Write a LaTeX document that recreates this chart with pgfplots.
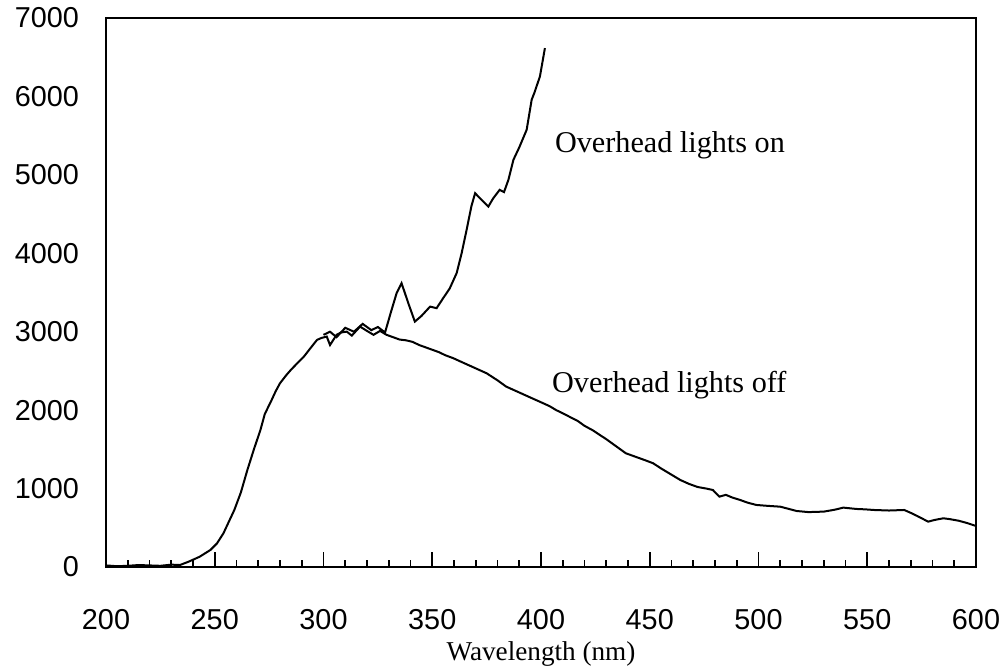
\documentclass[border=0pt]{standalone}
\usepackage{fontspec}
\setmainfont{Liberation Serif}
\newfontfamily\ticksans{Liberation Sans}
\usepackage{pgfplots}
\pgfplotsset{compat=1.18}
\begin{document}
\begin{tikzpicture}
\path[use as bounding box] (-53pt,-50pt) rectangle (450pt,283.5pt);
\begin{axis}[
  scale only axis,
  width=435pt, height=274.5pt,
  xmin=200, xmax=600, ymin=0, ymax=7000,
  xtick={200,250,...,600},
  ytick={0,1000,...,7000},
  minor x tick num=4,
  xtick pos=bottom,
  ytick style={draw=none},
  tick align=inside,
  major tick length=7.5pt,
  minor tick length=3.5pt,
  every tick/.style={black, line width=0.8pt},
  axis line style={line width=1pt},
  /pgf/number format/assume math mode=true,
  /pgf/number format/1000 sep={},
  ticklabel style={font=\ticksans\fontsize{14.4}{16}\selectfont},
  yticklabel style={xshift=-10pt},
  xticklabel style={yshift=-17.5pt},
  xlabel={Wavelength (nm)},
  xlabel style={font=\fontsize{13.6}{15}\selectfont, yshift=1pt},
]
\addplot[black, line width=1pt] coordinates {
(200,20) (205,10) (210,15) (215,25) (220,20) (225,15) (230,30) (234,25) (238,68) (243,130)
(248,217) (251,300) (254,430) (259,727) (262,950) (265,1237) (268,1500) (271,1747) (273,1950)
(276,2120) (278,2240) (280,2343) (283,2450) (285,2513) (288,2600)
(291,2683) (294,2790) (297,2895) (299,2920) (301.5,2938) (303,2830) (306,2960) (308,2990) (310.7,3001) (313,2950)
(316.8,3065) (320,3010) (323,2960) (326,3010) (329,2960) (332,2930) (335,2900) (338,2890) (341,2870)
(344,2830) (347,2800) (350,2770) (353,2740) (356,2700) (359.7,2662) (363,2620) (367,2570) (371,2520) (375,2470) (380,2380) (384,2300) (388,2250) (392,2200)
(396,2150) (401,2088) (404,2050) (407,2000) (410,1960) (413,1917) (417,1860) (420,1800) (424,1740) (427,1684) (430,1630) (433,1570) (436,1510) (439,1450)
(442,1420) (445,1390) (448,1360) (451.6,1322) (455,1260) (458,1210) (461,1160) (464,1110) (468,1060) (472,1020) (476,1000) (479,982) (482,897)
(485,920) (488,885) (491.5,855) (495,820) (499,791) (504,780) (510,769) (514,740) (517.5,714) (523,700) (530,706) (535,730) (539,757)
(545,740) (549,735) (553,727) (560,720) (567,727) (570,690) (573,650) (578,578) (581,600) (585,621) (588,610) (592,590) (596,560) (600,523)
};
\addplot[black, line width=1pt] coordinates {
(300,2960) (303,3000) (306,2930) (310,3050) (314,3000) (318,3100) (322,3020)
(325,3060) (328.3,2990) (331,3250) (333.6,3490) (335.9,3618) (339,3363) (342,3129)
(345,3200) (349,3320) (352,3300) (355,3427) (358,3550) (361.2,3746) (363.5,4000)
(365.8,4299) (368,4600) (369.7,4766) (372,4700) (375.8,4596) (378,4700) (381,4809)
(383,4780) (385,4936) (387.3,5191) (390,5350) (393.4,5574) (395.7,5957) (397,6050)
(399.5,6254) (401.8,6616)
};
\node[font=\fontsize{15.1}{17}\selectfont] at (axis cs:459.3,5383) {Overhead lights on};
\node[font=\fontsize{15.1}{17}\selectfont] at (axis cs:459,2321) {Overhead lights off};
\end{axis}
\end{tikzpicture}
\end{document}
